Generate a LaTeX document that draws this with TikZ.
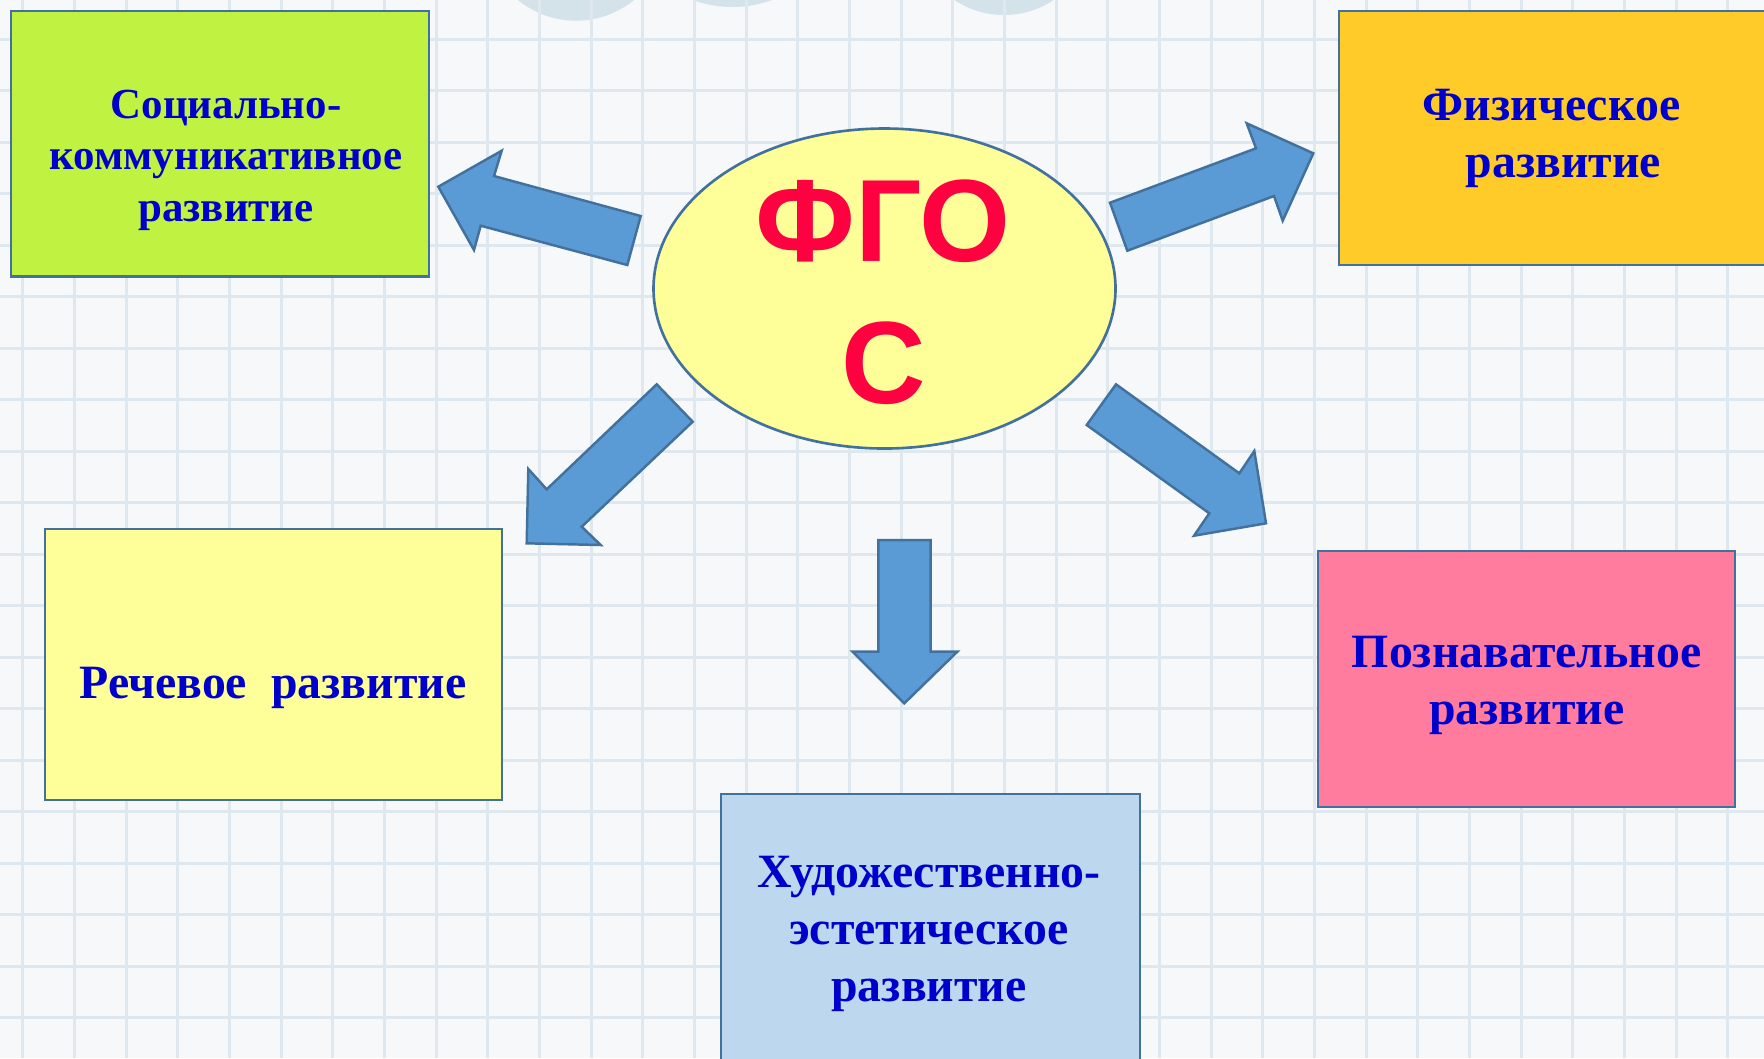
\documentclass[tikz,border=0pt]{standalone}
\usepackage{fontspec}
\setmainfont{Liberation Serif}
\newfontfamily\fgosfont{Liberation Sans}

\definecolor{paper}{RGB}{246,248,250}
\definecolor{gridblue}{RGB}{222,232,238}
\definecolor{markblue}{RGB}{212,226,233}
\definecolor{frameblue}{RGB}{65,113,156}
\definecolor{arrowblue}{RGB}{91,155,213}
\definecolor{textblue}{RGB}{0,0,204}
\definecolor{fgosred}{RGB}{255,0,64}
\definecolor{socgreen}{RGB}{192,242,66}
\definecolor{physorange}{RGB}{255,203,41}
\definecolor{speechyellow}{RGB}{255,255,153}
\definecolor{artblue}{RGB}{189,215,238}
\definecolor{cognpink}{RGB}{255,124,158}

\begin{document}
\begin{tikzpicture}[
    gridline/.style={draw=gridblue, line width=0.85pt},
    area/.style={draw=frameblue, line width=0.75pt},
    bigarrow/.style={fill=arrowblue, draw=frameblue, line width=0.7pt, line join=miter},
    areatext/.style={text=textblue, align=center, anchor=base,
        font=\bfseries\fontsize{13.6}{16.2}\selectfont},
]
    \useasboundingbox (0,0) rectangle (17.64,-10.58);
    \clip (0,0) rectangle (17.64,-10.58);
    \fill[paper] (0,0) rectangle (17.64,-10.58);

    % faint marks at the top edge
    \fill[markblue] (5.76,0.709) circle (0.916);
    \fill[markblue] (7.325,1.07) circle (1.14);
    \fill[markblue] (10.04,0.748) circle (0.898);

    % squared paper
    \foreach \i in {0,...,33}
        \draw[gridline] ({0.227+0.5167*\i},0) -- ++(0,-10.58);
    \foreach \j in {0,...,19}
        \draw[gridline] (0,{-0.39-0.515*\j}) -- ++(17.64,0);

    % the five areas
    \draw[area, fill=socgreen] (0.11,-0.11) rectangle (4.29,-2.765);
    \draw[area, fill=physorange] (13.39,-0.11) rectangle (17.9,-2.65);
    \draw[area, fill=speechyellow] (0.45,-5.29) rectangle (5.02,-8.0);
    \draw[area, fill=artblue] (7.21,-7.94) rectangle (11.4,-10.9);
    \draw[area, fill=cognpink] (13.18,-5.51) rectangle (17.35,-8.07);

    % centre
    \draw[area, fill=speechyellow] (8.845,-2.885) ellipse (2.31 and 1.6);

    % arrows
    \draw[bigarrow] (4.383,-1.867) -- (5.017,-1.507) -- (4.94,-1.76) -- (6.407,-2.16)
        -- (6.273,-2.65) -- (4.807,-2.257) -- (4.74,-2.5) -- cycle;
    \draw[bigarrow] (11.273,-2.507) -- (11.1,-2.027) -- (12.56,-1.483) -- (12.467,-1.233)
        -- (13.133,-1.533) -- (12.827,-2.207) -- (12.74,-1.96) -- cycle;
    \draw[bigarrow] (6.567,-3.843) -- (6.927,-4.217) -- (5.817,-5.267) -- (6.007,-5.45)
        -- (5.267,-5.433) -- (5.283,-4.69) -- (5.467,-4.893) -- cycle;
    \draw[bigarrow] (8.783,-5.4) -- (9.307,-5.4) -- (9.307,-6.517) -- (9.573,-6.517)
        -- (9.043,-7.033) -- (8.527,-6.517) -- (8.783,-6.517) -- cycle;
    \draw[bigarrow] (11.16,-3.843) -- (10.867,-4.25) -- (12.093,-5.133) -- (11.94,-5.357)
        -- (12.66,-5.233) -- (12.543,-4.51) -- (12.393,-4.733) -- cycle;

    % texts (base = last line)
    \node[text=fgosred, font=\fgosfont\bfseries\fontsize{33.3}{40}\selectfont, anchor=base]
        (fgo) at (8.83,-2.61) {ФГО};
    \node[text=fgosred, font=\fgosfont\bfseries\fontsize{33.3}{40}\selectfont, anchor=base]
        (fgos) at (8.84,-4.03) {С};
    \node[areatext, font=\bfseries\fontsize{12.2}{14.6}\selectfont]
        (soc) at (2.26,-2.21) {Социально-\\коммуникативное\\развитие};
    \node[areatext] (phys) at (15.515,-1.77) {Физическое\\\hspace*{0.5em}развитие};
    \node[areatext] (speech) at (2.73,-6.98) {Речевое~~развитие};
    \node[areatext] (art) at (9.29,-10.017) {Художественно-\\эстетическое\\развитие};
    \node[areatext] (cogn) at (15.267,-7.24) {Познавательное\\развитие};
\end{tikzpicture}
\end{document}
